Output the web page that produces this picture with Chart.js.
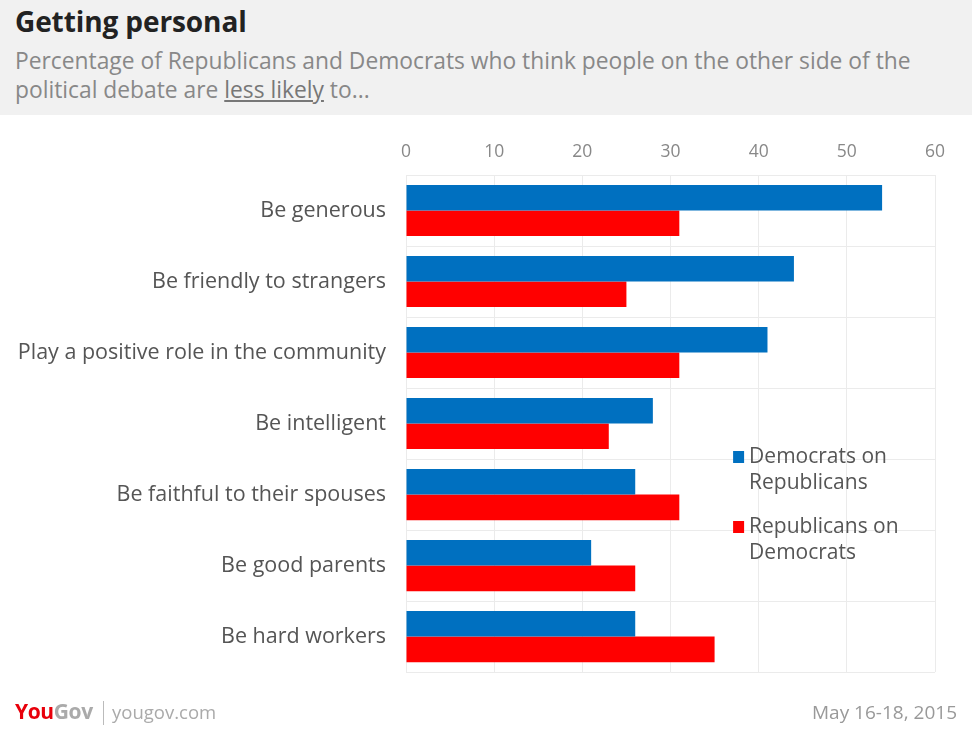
<!DOCTYPE html>
<html><head><meta charset="utf-8">
<script src="https://cdn.jsdelivr.net/npm/chart.js@4.4.1/dist/chart.umd.min.js"></script>
<style>
html,body{margin:0;padding:0;width:972px;height:738px;background:#fff;overflow:hidden;font-family:"Open Sans",Lato,sans-serif;}
#hdr{position:absolute;left:0;top:0;width:972px;height:115px;background:#f1f1f1;}
#title{position:absolute;left:15px;top:2px;font-size:28px;font-weight:bold;color:#222;letter-spacing:-0.1px;}
#sub{position:absolute;left:15px;top:46px;width:950px;font-size:22.8px;line-height:29px;color:#888;white-space:nowrap;}
#sub u{color:#777;}
#wrap{position:absolute;left:0;top:115px;width:972px;height:590px;}
#logo{position:absolute;left:15px;top:697px;font-size:21px;font-weight:bold;letter-spacing:-0.4px;}
#sep{position:absolute;left:103px;top:701px;width:1px;height:24px;background:#bbb;}
#site{position:absolute;left:112px;top:699px;font-size:18.5px;color:#aaa;}
#date{position:absolute;right:15px;top:699px;font-size:19px;color:#999;}
</style></head>
<body>
<div id="hdr"></div>
<div id="title">Getting personal</div>
<div id="sub">Percentage of Republicans and Democrats who think people on the other side of the<br>political debate are <u>less likely</u> to...</div>
<div id="wrap"><canvas id="c" width="972" height="590"></canvas></div>
<div id="logo"><span style="color:#e8000b">You</span><span style="color:#aaa">Gov</span></div>
<div id="sep"></div>
<div id="site">yougov.com</div>
<div id="date">May 16-18, 2015</div>
<script>
const categories = ["Be generous","Be friendly to strangers","Play a positive role in the community","Be intelligent","Be faithful to their spouses","Be good parents","Be hard workers"];
const demOnRep = [54,44,41,28,26,21,26];
const repOnDem = [31,25,31,23,31,26,35];
const seriesNames = [["Democrats on","Republicans"],["Republicans on","Democrats"]];
const xTicks = [0,10,20,30,40,50,60];
const FONT = '"Open Sans", Lato, sans-serif';

const legendPlugin = {
  id:'inlegend',
  afterDraw(chart){
    const ctx = chart.ctx;
    const ca = chart.chartArea;
    const x0 = chart.scales.x.getPixelForValue(37.1);
    ctx.save();
    ctx.font = '21px ' + FONT;
    ctx.textBaseline = 'middle';
    chart.data.datasets.forEach((ds,i)=>{
      const yTop = ca.top + 276 + i*70;
      ctx.fillStyle = ds.backgroundColor;
      ctx.fillRect(x0, yTop, 11, 12);
      ctx.fillStyle = '#555';
      ds.legendLines.forEach((ln,j)=>{
        ctx.fillText(ln, x0+16, yTop+6+j*26);
      });
    });
    ctx.restore();
  }
};

new Chart(document.getElementById('c'), {
  type:'bar',
  data:{
    labels:categories,
    datasets:[
      {label:seriesNames[0].join(' '), legendLines:seriesNames[0], data:demOnRep, backgroundColor:'#0070c0', categoryPercentage:0.72, barPercentage:1},
      {label:seriesNames[1].join(' '), legendLines:seriesNames[1], data:repOnDem, backgroundColor:'#ff0000', categoryPercentage:0.72, barPercentage:1}
    ]
  },
  options:{
    indexAxis:'y',
    responsive:false,
    animation:false,
    layout:{padding:{left:0,right:37,top:0,bottom:0}},
    plugins:{legend:{display:false},tooltip:{enabled:false}},
    scales:{
      x:{
        position:'top', min:0, max:60,
        afterBuildTicks(s){ s.ticks = xTicks.map(v=>({value:v})); },
        afterFit(s){ s.height = 60; },
        grid:{color:'#ebebeb', drawTicks:false},
        border:{display:false},
        ticks:{color:'#888', font:{size:17.5, family:FONT}, padding:12}
      },
      y:{
        afterFit(s){ s.width = 406; },
        grid:{color:'#ebebeb', drawTicks:false, offset:true},
        border:{display:false},
        ticks:{color:'#555', font:{size:21.5, family:FONT}, padding:20}
      }
    }
  },
  plugins:[legendPlugin]
});
</script>
</body></html>
